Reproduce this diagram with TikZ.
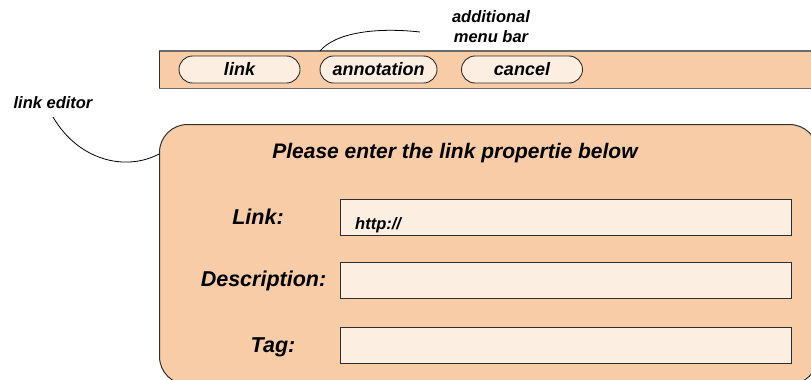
\documentclass[tikz,border=0pt]{standalone}
\usepackage{fontspec}
\setmainfont{Liberation Sans}
\definecolor{peach}{HTML}{F9CCA8}
\definecolor{cream}{HTML}{FDEEE2}
\definecolor{edgedark}{HTML}{2E2E2E}
\definecolor{bargray}{HTML}{6E6A68}

\tikzset{
  txt/.style={inner sep=0pt, anchor=base, font=\bfseries\itshape\fontsize{#1}{#1}\selectfont},
  button/.style={draw=edgedark, fill=cream, line width=0.9pt, rounded corners=13.5pt,
    minimum width=121pt, minimum height=27pt, inner sep=0pt},
  field/.style={draw=edgedark, fill=cream, line width=1.2pt, anchor=north west,
    minimum width=451pt, minimum height=36pt, inner sep=0pt},
  callout/.style={draw=black, line width=0.8pt},
}

\begin{document}
\begin{tikzpicture}[x=1pt,y=-1pt]
\useasboundingbox (0,0) rectangle (811,380);
\begin{scope}
  \clip (0,0) rectangle (811,380);

  % menu bar strip (runs off the right edge)
  \node[fill=peach, anchor=north west, minimum width=670pt, minimum height=37pt, inner sep=0pt]
    (menubar) at (159,51) {};
  \draw[bargray, line width=1.6pt] (menubar.north west) -- (menubar.north east);
  \draw[bargray, line width=1.6pt] (menubar.south west) -- (menubar.south east);
  \draw[edgedark, line width=1pt] (menubar.north west) -- (menubar.south west);

  \node[button] (blink) at (239.5,69.5) {};
  \node[button, minimum width=117pt] (bannot) at (378.5,69.5) {};
  \node[button] (bcancel) at (522,69.5) {};
  \node[txt=18] (tlink) at (239.5,75) {link};
  \node[txt=18] (tannot) at (378.5,75) {annotation};
  \node[txt=18] (tcancel) at (522,75) {cancel};

  % link editor panel (runs off the right and bottom edges)
  \node[draw=edgedark, fill=peach, line width=1pt, rounded corners=28pt, anchor=north west,
    minimum width=658pt, minimum height=260pt, inner sep=0pt] (editor) at (159,124) {};

  \node[txt=21] (title) at (455,158) {Please enter the link propertie below};

  \node[field] (flink) at (340,198.5) {};
  \node[field] (fdesc) at (340,261.5) {};
  \node[field] (ftag) at (340,327) {};

  \node[txt=21.5] (llink) at (258,224) {Link:};
  \node[txt=21.5] (ldesc) at (263.5,286) {Description:};
  \node[txt=21.5] (ltag) at (273,352) {Tag:};
  \node[txt=16.5, anchor=base west] (http) at (355,229) {http://};
\end{scope}

% callout labels
\node[txt=16.5] (menulabel) at (491,23) {additional};
\node[txt=16.5] (menulabelb) at (491,42) {menu bar};
\node[txt=16.5] (editlabel) at (53,108) {link editor};

\coordinate (menuend) at (320,51);
\coordinate (menustart) at (420,32);
\coordinate (editstart) at (53,117);
\coordinate (editend) at (159,154);

\draw[callout] (menustart) .. controls (375,27) and (335,33) .. (menuend);
\draw[callout] (editstart) .. controls (78,160) and (125,172) .. (editend);
\end{tikzpicture}
\end{document}
